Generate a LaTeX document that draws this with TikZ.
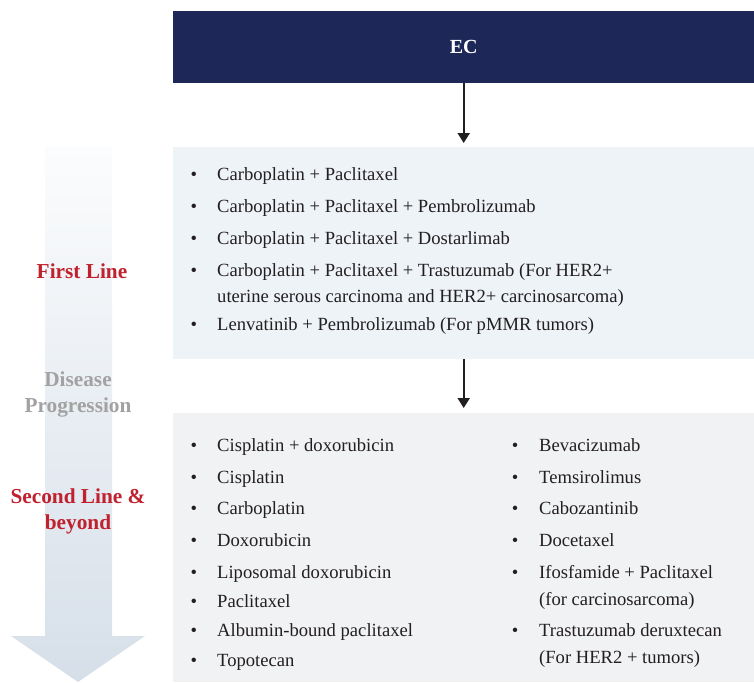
\documentclass[tikz,border=0pt]{standalone}
\usepackage{fontspec}
\setmainfont{Liberation Serif}
\usetikzlibrary{arrows.meta}
\definecolor{navy}{HTML}{1E2858}
\definecolor{boxblue}{HTML}{EEF3F8}
\definecolor{boxgrey}{HTML}{F1F2F4}
\definecolor{ink}{HTML}{231F20}
\definecolor{labred}{HTML}{C0212E}
\definecolor{labgrey}{HTML}{A2A2A2}
\definecolor{shafttop}{HTML}{FBFCFD}
\definecolor{shaftbot}{HTML}{D6DFE9}
\begin{document}
\begin{tikzpicture}[x=1pt,y=-1pt,
  panel/.style={draw=none,anchor=north west,inner sep=0pt},
  item/.style={anchor=base west,inner sep=0pt,text=ink,font=\fontsize{18.6}{24}\selectfont},
  dot/.style={anchor=base,inner sep=0pt,text=ink,font=\fontsize{18.6}{24}\selectfont},
  stage/.style={align=center,inner sep=0pt,font=\fontsize{21.3}{26}\selectfont\bfseries},
  flow/.style={draw=ink,line width=2pt,-{Triangle[length=10pt,width=12pt]}}]
\useasboundingbox (0,0) rectangle (754,682);

% time axis arrow on the left
\path[top color=shafttop,bottom color=shaftbot]
  (45,147) -- (112,147) -- (112,636) -- (145,636) -- (78,682)
  -- (11,636) -- (45,636) -- cycle;

% stage labels
\node[stage,text=labred] (l1) at (82,271) {First Line};
\node[stage,text=labgrey] (l2) at (78,394) {Disease\\Progression};
\node[stage,text=labred] (l3) at (78,511) {Second Line \&\\beyond};

% boxes
\node[panel,fill=navy,minimum width=581pt,minimum height=72pt] (ec) at (173,11) {};
\node[text=white,font=\fontsize{20}{24}\selectfont\bfseries] (ectext) at (ec.center) {EC};
\node[panel,fill=boxblue,minimum width=581pt,minimum height=212pt] (first) at (173,147) {};
\node[panel,fill=boxgrey,minimum width=581pt,minimum height=269pt] (second) at (173,413) {};

% connectors
\draw[flow,shorten >=4pt] (ec.south) -- (first.north);
\draw[flow,shorten >=5pt] (first.south) -- (second.north);

% first-line regimens
\foreach \y/\t in {180/{Carboplatin + Paclitaxel},
                   212/{Carboplatin + Paclitaxel + Pembrolizumab},
                   244/{Carboplatin + Paclitaxel + Dostarlimab},
                   276/{Carboplatin + Paclitaxel + Trastuzumab (For HER2+},
                   330/{Lenvatinib + Pembrolizumab (For pMMR tumors)}}
  {\node[dot] at (194,\y) {\textbullet};
   \node[item] at (217,\y) {\t};}
\node[item] (f4b) at (217,302) {uterine serous carcinoma and HER2+ carcinosarcoma)};

% second-line options, left column
\foreach \y/\t in {451/{Cisplatin + doxorubicin},
                   483/{Cisplatin},
                   514/{Carboplatin},
                   546/{Doxorubicin},
                   578/{Liposomal doxorubicin},
                   607/{Paclitaxel},
                   636/{Albumin-bound paclitaxel},
                   666/{Topotecan}}
  {\node[dot] at (194,\y) {\textbullet};
   \node[item] at (217,\y) {\t};}

% second-line options, right column
\foreach \y/\t in {451/{Bevacizumab},
                   483/{Temsirolimus},
                   514/{Cabozantinib},
                   546/{Docetaxel},
                   578/{Ifosfamide + Paclitaxel},
                   636/{Trastuzumab deruxtecan}}
  {\node[dot] at (515,\y) {\textbullet};
   \node[item] at (539,\y) {\t};}
\node[item] (r5b) at (539,605) {(for carcinosarcoma)};
\node[item] (r6b) at (539,663) {(For HER2 + tumors)};
\end{tikzpicture}
\end{document}
